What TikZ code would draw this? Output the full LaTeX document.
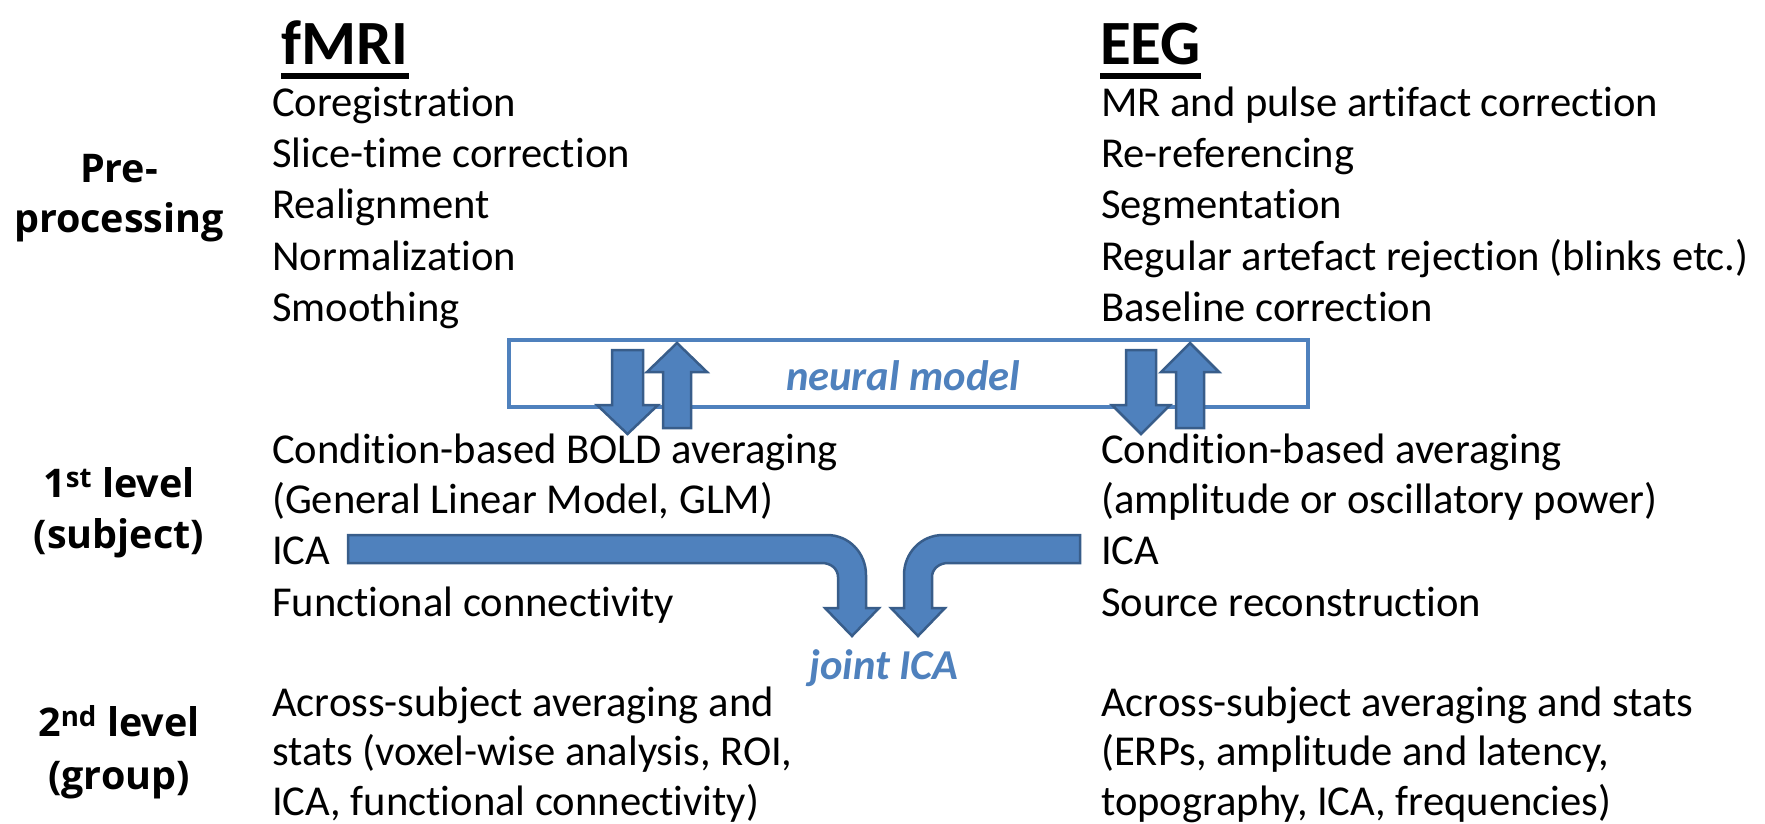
\documentclass[tikz,border=0pt]{standalone}
\usepackage{fontspec}
\setmainfont{Carlito}[Ligatures={NoCommon}]
\newfontfamily\labfont{Open Sans}
\definecolor{acc}{HTML}{4F81BD}
\definecolor{accdark}{HTML}{385D8A}
\begin{document}
\begin{tikzpicture}[x=1pt,y=-1pt,
  body/.style={anchor=base west, inner sep=0pt, font=\fontsize{42.6}{50}\selectfont},
  hdr/.style={anchor=base west, inner sep=0pt, font=\fontsize{63}{70}\selectfont\bfseries},
  lab/.style={anchor=base, inner sep=0pt, font=\labfont\bfseries\fontsize{39.5}{46}\selectfont},
  note/.style={anchor=center, inner sep=0pt, text=acc, font=\fontsize{42.6}{50}\selectfont\bfseries\itshape},
  blk/.style={fill=acc, draw=accdark, line width=2.5pt, line join=miter},
  modelbox/.style={draw=acc, line width=3.4pt}]
\useasboundingbox (0,0) rectangle (1765,823);

% headers
\node[hdr] (fmri) at (281,64) {fMRI};
\fill ([yshift=-9pt]fmri.base west) rectangle ([yshift=-15pt]fmri.base east);
\node[hdr] (eeg) at (1100,64) {EEG};
\fill ([yshift=-9pt]eeg.base west) rectangle ([yshift=-15pt]eeg.base east);

% row labels
\node[lab] (l1a) at (119,182) {Pre-};
\node[lab] (l1b) at (119,232) {processing};
\node[lab] (l2a) at (119,497) {1\textsuperscript{st} level};
\node[lab] (l2b) at (119,548) {(subject)};
\node[lab] (l3a) at (119,736) {2\textsuperscript{nd} level};
\node[lab] (l3b) at (119,789) {(group)};

% fMRI column
\node[body] (f1) at (272,116) {Coregistration};
\node[body] (f2) at (272,167) {Slice-time correction};
\node[body] (f3) at (272,218) {Realignment};
\node[body] (f4) at (272,270) {Normalization};
\node[body] (f5) at (272,321) {Smoothing};
\node[body] (f6) at (272,463) {Condition-based BOLD averaging};
\node[body] (f7) at (272,513) {(General Linear Model, GLM)};
\node[body] (f8) at (272,564) {ICA};
\node[body] (f9) at (272,616) {Functional connectivity};
\node[body] (f10) at (272,716) {Across-subject averaging and};
\node[body] (f11) at (272,765) {stats (voxel-wise analysis, ROI,};
\node[body] (f12) at (272,815) {ICA, functional connectivity)};

% EEG column
\node[body] (e1) at (1101,116) {MR and pulse artifact correction};
\node[body] (e2) at (1101,167) {Re-referencing};
\node[body] (e3) at (1101,218) {Segmentation};
\node[body] (e4) at (1101,270) {Regular artefact rejection (blinks etc.)};
\node[body] (e5) at (1101,321) {Baseline correction};
\node[body] (e6) at (1101,463) {Condition-based averaging};
\node[body] (e7) at (1101,513) {(amplitude or oscillatory power)};
\node[body] (e8) at (1101,564) {ICA};
\node[body] (e9) at (1101,616) {Source reconstruction};
\node[body] (e10) at (1101,716) {Across-subject averaging and stats};
\node[body] (e11) at (1101,765) {(ERPs, amplitude and latency,};
\node[body] (e12) at (1101,815) {topography, ICA, frequencies)};

% neural model box
\draw[modelbox] (509,340) rectangle (1308,407);
\node[note] (nm) at (903,376) {neural model};

% vertical block arrows (fMRI)
\draw[blk] (612,350) -- (643,350) -- (643,405) -- (658,405) -- (627.5,434) -- (597,405) -- (612,405) -- cycle;
\draw[blk] (663,428) -- (691,428) -- (691,372) -- (707,372) -- (677,343) -- (647,372) -- (663,372) -- cycle;
% vertical block arrows (EEG)
\draw[blk] (1126,350) -- (1156,350) -- (1156,405) -- (1170,405) -- (1141,434) -- (1112,405) -- (1126,405) -- cycle;
\draw[blk] (1176,428) -- (1204,428) -- (1204,372) -- (1219,372) -- (1190,343) -- (1161,372) -- (1176,372) -- cycle;

% joint ICA arrows
\draw[blk] (348,535) -- (827,535) .. controls (849,535) and (866,553) .. (866,575)
  -- (866,608) -- (879,608) -- (852,636) -- (825,608) -- (838,608) -- (838,577)
  .. controls (838,569) and (831,563) .. (822,563) -- (348,563) -- cycle;
\draw[blk] (1080,535) -- (943,535) .. controls (921,535) and (904,553) .. (904,575)
  -- (904,608) -- (891,608) -- (918,636) -- (945,608) -- (932,608) -- (932,577)
  .. controls (932,569) and (939,563) .. (948,563) -- (1080,563) -- cycle;
\node[note] (jica) at (884,668) {joint ICA};
\end{tikzpicture}
\end{document}
